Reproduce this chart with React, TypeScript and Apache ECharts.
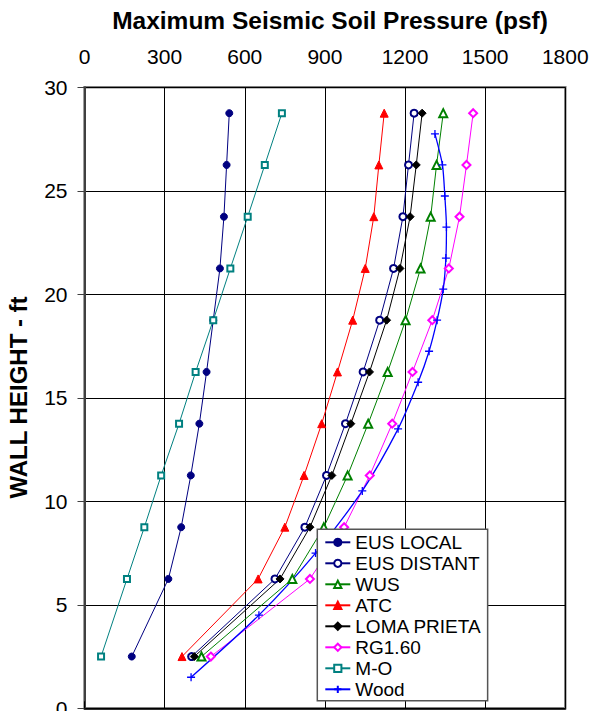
import React, { useEffect, useRef } from "react";
import * as echarts from "echarts";

const X_TICKS = [0, 300, 600, 900, 1200, 1500, 1800];
const HEIGHTS = [28.75, 26.25, 23.75, 21.25, 18.75, 16.25, 13.75, 11.25, 8.75, 6.25, 2.5];
const EUS_LOCAL = [542, 532, 522, 507, 482, 457, 430, 398, 362, 314, 177];
const EUS_DISTANT = [1234, 1213, 1192, 1157, 1105, 1043, 977, 906, 825, 713, 401];
const WUS = [1343, 1318, 1296, 1258, 1202, 1135, 1062, 985, 896, 778, 438];
const ATC = [1122, 1102, 1083, 1051, 1004, 947, 888, 822, 750, 650, 365];
const LOMA_PRIETA = [1264, 1242, 1219, 1181, 1131, 1067, 997, 926, 844, 732, 411];
const RG160 = [1455, 1430, 1404, 1364, 1302, 1228, 1152, 1068, 972, 844, 473];
const M_O = [739, 675, 611, 546, 482, 416, 354, 287, 224, 159, 62];
const WOOD_HEIGHTS = [27.75, 26.25, 24.75, 23.25, 21.75, 20.25, 18.75, 17.25, 15.75, 13.5, 10.5, 7.5, 4.5, 1.5];
const WOOD = [1312, 1340, 1349, 1355, 1353, 1343, 1320, 1290, 1249, 1174, 1040, 865, 653, 399];

const FONT = 'Arial, "Liberation Sans", sans-serif';
const PLUS = "path://M0,5 L10,5 M5,0 L5,10";

function pairs(xs: number[], ys: number[]) {
  return xs.map((x, i) => [x, ys[i]]);
}

export default function App() {
  const ref = useRef<HTMLDivElement>(null);
  useEffect(() => {
    if (!ref.current) return;
    const chart = echarts.init(ref.current, null, { renderer: "svg" });
    const mk = (
      name: string,
      xs: number[],
      ys: number[],
      color: string,
      symbol: string,
      size: number,
      extra: any = {}
    ) => ({
      name,
      type: "line",
      data: pairs(xs, ys),
      symbol,
      symbolSize: size,
      color,
      lineStyle: { color, width: 1 },
      itemStyle: { color, borderColor: color, borderWidth: 1 },
      z: 3,
      ...extra,
    });
    chart.setOption({
      animation: false,
      backgroundColor: "#ffffff",
      grid: {
        left: 84.5,
        right: 24.7,
        top: 87.3,
        bottom: 2.7,
        outerBoundsMode: "none",
        containLabel: false,
        show: true,
        borderColor: "#808080",
        borderWidth: 2.5,
        backgroundColor: "transparent",
      },
      graphic: [
        {
          type: "text",
          x: 330,
          y: 20,
          style: {
            text: "Maximum Seismic Soil Pressure (psf)",
            font: `bold 24.5px ${FONT}`,
            fill: "#000",
            textAlign: "center",
            textVerticalAlign: "middle",
          },
        },
        {
          type: "text",
          x: 18.5,
          y: 397.5,
          rotation: Math.PI / 2,
          style: {
            text: "WALL HEIGHT - ft",
            font: `bold 24px ${FONT}`,
            fill: "#000",
            textAlign: "center",
            textVerticalAlign: "middle",
          },
        },
      ],
      xAxis: {
        type: "value",
        position: "top",
        min: X_TICKS[0],
        max: X_TICKS[X_TICKS.length - 1],
        interval: 300,
        axisLine: { show: true, lineStyle: { color: "#000", width: 1.5 } },
        axisTick: { show: true, inside: false, length: 7, lineStyle: { color: "#000", width: 1 } },
        axisLabel: {
          fontFamily: FONT,
          fontSize: 21,
          color: "#000",
          margin: 20,
          formatter: (v: number) => String(v),
        },
        splitLine: { show: true, lineStyle: { color: "#000", width: 1 } },
      },
      yAxis: {
        type: "value",
        min: 0,
        max: 30,
        interval: 5,
        axisLine: { show: true, lineStyle: { color: "#404040", width: 2 } },
        axisTick: { show: true, inside: false, length: 7, lineStyle: { color: "#404040", width: 1 } },
        axisLabel: { fontFamily: FONT, fontSize: 21, color: "#000", margin: 17 },
        splitLine: { show: true, lineStyle: { color: "#000", width: 1 } },
      },
      legend: {
        orient: "vertical",
        left: 317.3,
        top: 529.3,
        padding: [2.5, 6, 1, 7],
        itemWidth: 25,
        itemHeight: 9,
        itemGap: 0,
        backgroundColor: "#fff",
        borderColor: "#555",
        borderWidth: 1.5,
        borderRadius: 0,
        textStyle: { fontFamily: FONT, fontSize: 19, color: "#000", lineHeight: 21 },
        data: ["EUS LOCAL", "EUS DISTANT", "WUS", "ATC", "LOMA PRIETA", "RG1.60", "M-O", "Wood"],
      },
      series: [
        mk("EUS LOCAL", EUS_LOCAL, HEIGHTS, "#000080", "circle", 7),
        mk("EUS DISTANT", EUS_DISTANT, HEIGHTS, "#000080", "emptyCircle", 7),
        mk("WUS", WUS, HEIGHTS, "#008000", "emptyTriangle", 8),
        mk("ATC", ATC, HEIGHTS, "#ff0000", "triangle", 8),
        mk("LOMA PRIETA", LOMA_PRIETA, HEIGHTS, "#000000", "diamond", 8),
        mk("RG1.60", RG160, HEIGHTS, "#ff00ff", "emptyDiamond", 8),
        mk("M-O", M_O, HEIGHTS, "#008080", "emptyRect", 6),
        mk("Wood", WOOD, WOOD_HEIGHTS, "#0000ff", PLUS, 8, {
          smooth: 0.25,
          lineStyle: { color: "#0000ff", width: 1.3 },
          itemStyle: { color: "#0000ff", borderColor: "#0000ff", borderWidth: 1.3 },
        }),
      ],
    });
    return () => chart.dispose();
  }, []);
  return (
    <div
      ref={ref}
      style={{ position: "fixed", left: 0, top: 0, width: 590, height: 711 }}
    />
  );
}
